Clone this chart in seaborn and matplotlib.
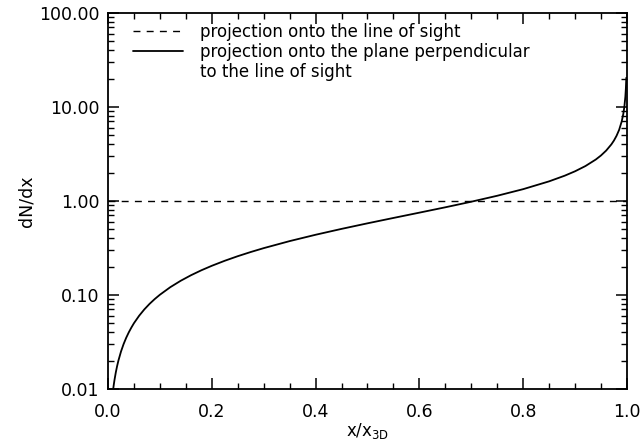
import numpy as np
import pandas as pd
import matplotlib
matplotlib.use("Agg")
import matplotlib.pyplot as plt
import seaborn as sns
from matplotlib.lines import Line2D
from matplotlib.ticker import FixedLocator, MultipleLocator, LogLocator, NullFormatter

# values (solid line)
x_perp = [0.0100, 0.0110, 0.0125, 0.0150, 0.0175, 0.020, 0.025, 0.030, 0.035,
          0.040, 0.045, 0.050, 0.060, 0.070, 0.080, 0.090, 0.100, 0.120,
          0.140, 0.160, 0.180, 0.200, 0.225, 0.250, 0.275, 0.300, 0.350,
          0.400, 0.450, 0.500, 0.550, 0.600, 0.650, 0.700, 0.750, 0.800,
          0.850, 0.880, 0.900, 0.920, 0.940, 0.950, 0.960, 0.970, 0.975,
          0.980, 0.985, 0.990, 0.993, 0.995, 0.997, 0.998, 0.9988]
y_perp = [0.0100, 0.0110, 0.0125, 0.0150, 0.0175, 0.0200, 0.0250, 0.0300,
          0.0350, 0.0400, 0.0450, 0.0501, 0.0601, 0.0702, 0.0803, 0.0904,
          0.1005, 0.1209, 0.1414, 0.1621, 0.1830, 0.2041, 0.2309, 0.2582,
          0.2860, 0.3145, 0.3736, 0.4364, 0.5039, 0.5774, 0.6586, 0.750,
          0.855, 0.980, 1.134, 1.333, 1.614, 1.853, 2.065, 2.347, 2.755,
          3.042, 3.429, 3.990, 4.386, 4.925, 5.70, 7.02, 8.39, 9.96, 12.86,
          15.8, 20.4]

# dashed line: flat at 1
x_los = [0.0, 1.0]
y_los = [1.0, 1.0]

yticks = [0.01, 0.1, 1, 10, 100]
ytick_labels = ["0.01", "0.10", "1.00", "10.00", "100.00"]
xticks = [0.0, 0.2, 0.4, 0.6, 0.8, 1.0]

lab_los = "projection onto the line of sight"
lab_perp = "projection onto the plane perpendicular"
lab_perp2 = "to the line of sight"

df_perp = pd.DataFrame({"x": x_perp, "y": y_perp})
df_los = pd.DataFrame({"x": x_los, "y": y_los})

sns.set_style("ticks")
plt.rcParams["font.family"] = ["DejaVu Sans"]

fig = plt.figure(figsize=(6.43, 4.43), dpi=100)
ax = fig.add_axes([0.168, 0.122, 0.807, 0.849])

sns.lineplot(data=df_los, x="x", y="y", ax=ax, color="black", lw=1.0,
             dashes=False, label=lab_los)
ax.lines[-1].set_dashes((5, 4.5))
sns.lineplot(data=df_perp, x="x", y="y", ax=ax, color="black", lw=1.3,
             label=lab_perp)

ax.set_yscale("log")
ax.set_xlim(0, 1)
ax.set_ylim(0.01, 100)

ax.xaxis.set_major_locator(FixedLocator(xticks))
ax.xaxis.set_minor_locator(MultipleLocator(0.05))
ax.set_xticklabels([f"{t:.1f}" for t in xticks])
ax.yaxis.set_major_locator(FixedLocator(yticks))
ax.set_yticklabels(ytick_labels)
ax.yaxis.set_minor_locator(LogLocator(base=10, subs=np.arange(2, 10)))
ax.yaxis.set_minor_formatter(NullFormatter())

for s in ax.spines.values():
    s.set_visible(True)
    s.set_linewidth(1.3)
    s.set_color("black")

ax.tick_params(which="both", direction="in", top=True, right=True,
               color="black", labelsize=12.5, labelcolor="black")
ax.tick_params(which="major", length=8, width=1.1)
ax.tick_params(which="minor", length=4, width=1.0)
ax.tick_params(axis="x", which="major", pad=10)
ax.tick_params(axis="y", which="major", pad=6)

ax.set_xlabel(r"x/x$_\mathregular{3D}$", fontsize=12, labelpad=0, color="black")
ax.set_ylabel("dN/dx", fontsize=12.5, labelpad=3, color="black")

# legend: third row carries the wrapped text without a handle
handles, labels = ax.get_legend_handles_labels()
handles.append(Line2D([], [], color="none"))
labels.append(lab_perp2)
leg = ax.legend(handles, labels, loc="upper left", bbox_to_anchor=(0.035, 0.99),
                frameon=False, fontsize=12, handlelength=3.0, handletextpad=1.0,
                labelspacing=0.12, borderaxespad=0.0, labelcolor="black")

fig.savefig("out.png", dpi=100)
